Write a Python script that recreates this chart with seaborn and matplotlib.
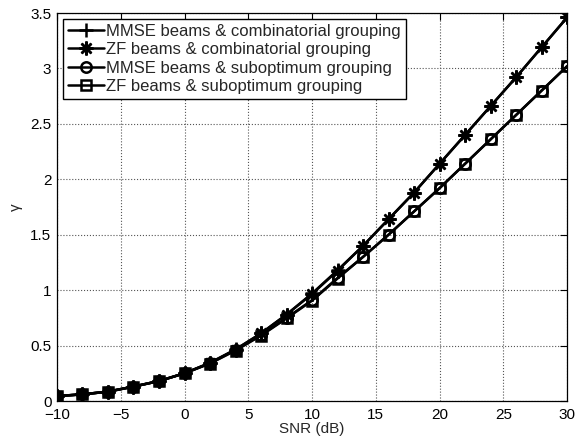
import numpy as np
import pandas as pd
import matplotlib
matplotlib.use("Agg")
import matplotlib.pyplot as plt
import seaborn as sns

snr = [-10, -8, -6, -4, -2, 0, 2, 4, 6, 8, 10, 12, 14, 16, 18, 20, 22, 24, 26, 28, 30]
mmse_comb = [0.045, 0.06, 0.085, 0.13, 0.18, 0.25, 0.345, 0.465, 0.61, 0.78, 0.97, 1.18, 1.40, 1.64, 1.88, 2.14, 2.40, 2.66, 2.92, 3.19, 3.46]
zf_comb = [0.044, 0.06, 0.084, 0.13, 0.18, 0.25, 0.344, 0.464, 0.61, 0.78, 0.965, 1.175, 1.40, 1.64, 1.88, 2.14, 2.40, 2.66, 2.92, 3.19, 3.46]
mmse_sub = [0.045, 0.06, 0.085, 0.13, 0.18, 0.25, 0.34, 0.46, 0.595, 0.75, 0.91, 1.11, 1.30, 1.50, 1.71, 1.92, 2.14, 2.36, 2.58, 2.80, 3.02]
zf_sub = [0.044, 0.06, 0.084, 0.13, 0.18, 0.25, 0.338, 0.455, 0.59, 0.745, 0.905, 1.105, 1.30, 1.50, 1.71, 1.92, 2.14, 2.36, 2.58, 2.80, 3.02]
labels = ['MMSE beams & combinatorial grouping', 'ZF beams & combinatorial grouping',
          'MMSE beams & suboptimum grouping', 'ZF beams & suboptimum grouping']
xticks = [-10, -5, 0, 5, 10, 15, 20, 25, 30]
yticks = [0, 0.5, 1, 1.5, 2, 2.5, 3, 3.5]
yticklabels = ['0', '0.5', '1', '1.5', '2', '2.5', '3', '3.5']

sns.set_style("white")
plt.rcParams['font.family'] = ['Liberation Sans', 'DejaVu Sans']

fig = plt.figure(figsize=(5.85, 4.41), dpi=100)
ax = fig.add_axes([0.0974, 0.0907, 0.872, 0.8798])

series = [mmse_comb, zf_comb, mmse_sub, zf_sub]
markers = ['+', (8, 2, 0), 'o', 's']
msizes = [10, 10, 7.5, 6.5]
for vals, lab, mk, ms in zip(series, labels, markers, msizes):
    df = pd.DataFrame({'snr': snr, 'gamma': vals})
    sns.lineplot(data=df, x='snr', y='gamma', ax=ax, color='black', linewidth=1.8,
                 marker=mk, markersize=ms, markerfacecolor='none', markeredgecolor='black',
                 markeredgewidth=1.8, label=lab)

ax.set_xlim(-10, 30)
ax.set_ylim(0, 3.5)
ax.set_xticks(xticks)
ax.set_yticks(yticks)
ax.set_yticklabels(yticklabels)
ax.grid(True, linestyle=':', color='#555555', linewidth=0.8)
ax.tick_params(direction='in', top=True, right=True, length=5, labelsize=11, width=0.8,
               colors='black')
ax.tick_params(axis='x', pad=5)
ax.tick_params(axis='y', pad=4)
for sp in ax.spines.values():
    sp.set_color('black')
    sp.set_linewidth(0.9)
ax.set_xlabel('SNR (dB)', fontsize=11, labelpad=0)
ax.set_ylabel('γ', fontsize=11, labelpad=5)

leg = ax.legend(loc='upper left', fontsize=12, frameon=True, fancybox=False, framealpha=1,
                edgecolor='black', borderpad=0.3, labelspacing=0.2, handlelength=2.2,
                handletextpad=0.1, borderaxespad=0.35)
leg.get_frame().set_linewidth(1.0)

fig.savefig('out.png', dpi=100)
